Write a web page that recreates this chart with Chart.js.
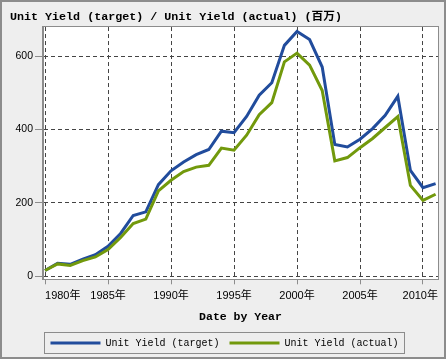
<!DOCTYPE html>
<html><head><meta charset="utf-8">
<script src="https://cdn.jsdelivr.net/npm/chart.js@4/dist/chart.umd.min.js"></script>
<style>html,body{margin:0;padding:0;background:#eeeeee}#wrap{width:446px;height:359px}</style>
</head><body><div id="wrap"><canvas id="c" width="446" height="359"></canvas></div>
<script>
const years = [1980,1981,1982,1983,1984,1985,1986,1987,1988,1989,1990,1991,1992,1993,1994,1995,1996,1997,1998,1999,2000,2001,2002,2003,2004,2005,2006,2007,2008,2009,2010,2011];
const targetValues = [15,35,32,46,58,81,116,165,175,249,287,311,331,345,395,391,435,493,527,629,667,645,570,359,352,373,402,438,490,288,241,252];
const actualValues = [15,33,29,42,52,72,105,143,155,232,261,285,297,302,349,343,384,440,473,584,608,575,506,314,323,350,375,405,435,247,206,223];
const xTicks = [1980,1985,1990,1995,2000,2005,2010];
const yTicks = [0,200,400,600];
const titleText = 'Unit Yield (target) / Unit Yield (actual) (百万)';
const xTitle = 'Date by Year';
const seriesNames = ['Unit Yield (target)','Unit Yield (actual)'];

const BLUE = '#214c9c', GREEN = '#72990c', FRAME = '#8c8c8c', GRID = '#444444';
const MONO = "'Liberation Mono','Noto Sans CJK SC',monospace";
const SANS = "'Liberation Sans','Noto Sans CJK SC',sans-serif";

const decor = {
  id: 'decor',
  beforeDraw(chart) {
    const ctx = chart.ctx;
    ctx.save();
    ctx.fillStyle = '#eeeeee';
    ctx.fillRect(0, 0, chart.width, chart.height);
    const a = chart.chartArea;
    ctx.fillStyle = '#ffffff';
    ctx.fillRect(a.left, a.top, a.right - a.left, a.bottom - a.top);
    ctx.restore();
    const xs = chart.scales.x;
    const items = xs.getLabelItems(a);
    if (items.length) {
      items[0].options.textAlign = 'left';
      const last = items[items.length - 1];
      last.options.textAlign = 'right';
      last.options.translation[0] = a.right;
    }
  },
  afterDraw(chart) {
    const ctx = chart.ctx, a = chart.chartArea;
    ctx.save();
    ctx.setLineDash([]);
    ctx.strokeStyle = FRAME;
    ctx.lineWidth = 1;
    ctx.strokeRect(Math.round(a.left) - 0.5, Math.round(a.top) - 0.5, Math.round(a.right - a.left) + 1, Math.round(a.bottom - a.top) + 1);
    const hb = chart.legend.legendHitBoxes;
    if (hb && hb.length) {
      const l = Math.min(...hb.map(h => h.left)) - 6;
      const r = Math.max(...hb.map(h => h.left + h.width)) + 6;
      const cy = hb[0].top + hb[0].height / 2;
      ctx.strokeRect(Math.round(l) + 0.5, Math.round(cy - 11) + 0.5, Math.round(r - l), 21);
    }
    ctx.lineWidth = 2;
    ctx.strokeStyle = FRAME;
    ctx.strokeRect(1, 1, chart.width - 2, chart.height - 2);
    ctx.restore();
  }
};

new Chart(document.getElementById('c'), {
  type: 'line',
  data: {
    datasets: [
      { label: seriesNames[1], data: years.map((y, i) => ({x: y, y: actualValues[i]})), borderColor: GREEN, backgroundColor: GREEN, borderWidth: 3, pointRadius: 0, tension: 0 },
      { label: seriesNames[0], data: years.map((y, i) => ({x: y, y: targetValues[i]})), borderColor: BLUE, backgroundColor: BLUE, borderWidth: 3, pointRadius: 0, tension: 0 }
    ]
  },
  options: {
    responsive: false,
    animation: false,
    devicePixelRatio: 1,
    layout: { padding: { left: 10, right: 7, top: 0, bottom: 1 } },
    plugins: {
      title: { display: true, text: titleText, align: 'start', color: '#000', font: { family: MONO, size: 11.7, weight: 'bold', lineHeight: 1.2 }, padding: { top: 10, bottom: 3 } },
      legend: {
        position: 'bottom',
        labels: {
          boxWidth: 50, boxHeight: 3, padding: 10, color: '#000',
          font: { family: MONO, size: 10 },
          sort: (a, b) => b.datasetIndex - a.datasetIndex,
          generateLabels(chart) {
            return Chart.defaults.plugins.legend.labels.generateLabels(chart).map(l => Object.assign(l, { lineWidth: 0 }));
          }
        }
      },
      tooltip: { enabled: false }
    },
    scales: {
      x: {
        type: 'linear', min: 1979.84, max: 2011.19,
        afterBuildTicks(s) { s.ticks = xTicks.map(v => ({ value: v })); },
        afterFit(s) { s.height = 48.7; },
        ticks: { callback: v => v + '年', color: '#000', font: { family: SANS, size: 11 }, padding: 5, maxRotation: 0, autoSkip: false },
        grid: { color: GRID, tickLength: 5, tickColor: FRAME, tickBorderDash: [], lineWidth: 1 },
        border: { display: true, color: FRAME, dash: [4, 3] },
        title: { display: true, text: xTitle, color: '#000', font: { family: MONO, size: 11.5, weight: 'bold', lineHeight: 1.2 }, padding: { top: 4, bottom: 4 } }
      },
      y: {
        type: 'linear', min: -9, max: 679,
        afterBuildTicks(s) { s.ticks = yTicks.map(v => ({ value: v })); },
        afterFit(s) { s.width = 33; },
        ticks: { color: '#000', font: { family: SANS, size: 10.5 }, padding: 2 },
        grid: { color: GRID, tickLength: 8, tickColor: FRAME, tickBorderDash: [], lineWidth: 1 },
        border: { display: true, color: FRAME, dash: [4, 3] }
      }
    }
  },
  plugins: [decor]
});
</script></body></html>
